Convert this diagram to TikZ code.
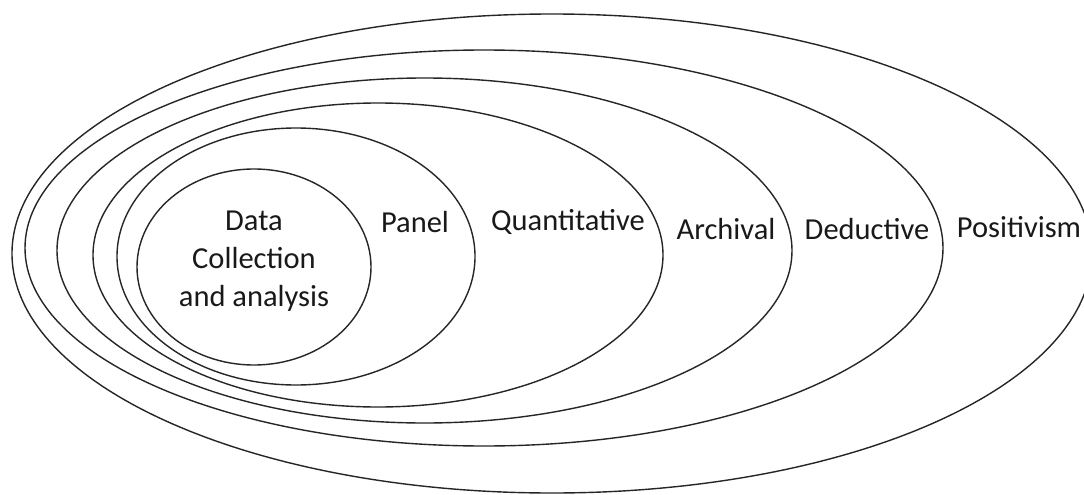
\documentclass[tikz,border=0pt]{standalone}
\usepackage{fontspec}
\setmainfont{Carlito}
\begin{document}
\begin{tikzpicture}[x=1pt,y=-1pt,
  ring/.style={draw=black!85,line width=1.4pt},
  lab/.style={font=\fontsize{30.5}{38}\selectfont,text=black!90,inner sep=0pt,align=center}]
\useasboundingbox (0,0) rectangle (1084,495);
\fill[white] (0,0) rectangle (1084,495);
\clip (0,0) rectangle (1084,495);
\draw[ring] (552,253.5) ellipse [x radius=540, y radius=239.5];
\draw[ring] (484,248) ellipse [x radius=459, y radius=198];
\draw[ring] (424.5,250.5) ellipse [x radius=367.5, y radius=172.5];
\draw[ring] (378,255) ellipse [x radius=285, y radius=152];
\draw[ring] (296,256.5) ellipse [x radius=179, y radius=128.5];
\draw[ring] (254,267) ellipse [x radius=117, y radius=98];
\node[lab] (data) at (254,261) {Data\\Collection\\and analysis};
\node[lab] (panel) at (415,222) {Panel};
\node[lab] (quant) at (568,222) {Quantitative};
\node[lab] (arch) at (726,229) {Archival};
\node[lab] (ded) at (867,229) {Deductive};
\node[lab] (pos) at (1019,227) {Positivism};
\end{tikzpicture}
\end{document}
